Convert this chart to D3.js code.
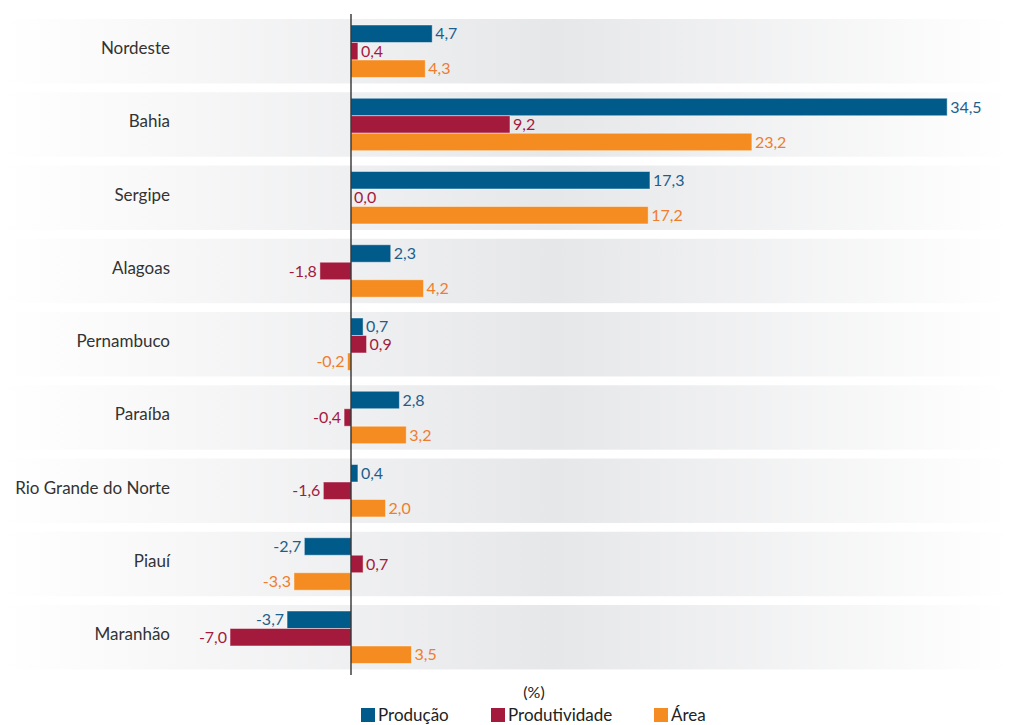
<!DOCTYPE html>
<html><head><meta charset="utf-8">
<script src="https://cdn.jsdelivr.net/npm/d3@7"></script>
<style>body{margin:0;background:#fff}svg{display:block;font-family:Lato,"Open Sans",sans-serif}</style>
</head><body>
<script>
const categories = ["Nordeste","Bahia","Sergipe","Alagoas","Pernambuco","Paraíba","Rio Grande do Norte","Piauí","Maranhão"];
const seriesNames = ["Produção","Produtividade","Área"];
const producao = [4.7,34.5,17.3,2.3,0.7,2.8,0.4,-2.7,-3.7];
const produtividade = [0.4,9.2,0.0,-1.8,0.9,-0.4,-1.6,0.7,-7.0];
const area = [4.3,23.2,17.2,4.2,-0.2,3.2,2.0,-3.3,3.5];
const unitLabel = "(%)";

const colors = ["#005a8a","#a31a3c","#f48c21"];
const textColors = ["#1d5f8c","#a31a3c","#ef7d2d"];
const values = [producao, produtividade, area];

const W = 1009, H = 725;
const svg = d3.select("body").append("svg").attr("width",W).attr("height",H);
const defs = svg.append("defs");
const grad = defs.append("linearGradient").attr("id","bandGrad").attr("x1","0").attr("x2","1").attr("y1","0").attr("y2","0");
grad.append("stop").attr("offset","0%").attr("stop-color","#ffffff");
grad.append("stop").attr("offset","18%").attr("stop-color","#f7f7f8");
grad.append("stop").attr("offset","55%").attr("stop-color","#e6e7e9");
grad.append("stop").attr("offset","100%").attr("stop-color","#ffffff");

const k = 17.28;
const x = d3.scaleLinear().domain([-8,36]).range([351-8*k, 351+36*k]);
const step = 73.25;
const y = d3.scaleBand().domain(categories).range([19-0.06*step, 19+9*step-0.06*step]).paddingInner(0.12).paddingOuter(0.06);
const inner = d3.scaleBand().domain(seriesNames).range([6, y.bandwidth()-6]);

// bands
svg.append("g").selectAll("rect").data(categories).join("rect")
  .attr("x",0).attr("width",W).attr("y",d=>y(d)).attr("height",y.bandwidth())
  .attr("fill","url(#bandGrad)");

// category labels
svg.append("g").selectAll("text").data(categories).join("text")
  .attr("x",170).attr("y",d=>y(d)+y.bandwidth()/2-3).attr("dy","0.35em")
  .attr("text-anchor","end").attr("font-size",17).attr("fill","#333")
  .text(d=>d);

// bars
seriesNames.forEach((s,si)=>{
  const g = svg.append("g");
  const data = categories.map((c,i)=>({c, v: values[si][i]}));
  g.selectAll("rect").data(data).join("rect")
    .attr("x",d=>x(Math.min(0,d.v))).attr("width",d=>Math.abs(x(d.v)-x(0)))
    .attr("y",d=>y(d.c)+inner(s)).attr("height",inner.bandwidth())
    .attr("fill",colors[si]).attr("stroke","rgba(255,255,255,0.45)").attr("stroke-width",1);
  g.selectAll("text").data(data).join("text")
    .attr("x",d=>d.v<0 ? x(d.v)-3 : x(d.v)+3)
    .attr("y",d=>y(d.c)+inner(s)+inner.bandwidth()/2).attr("dy","0.35em")
    .attr("text-anchor",d=>d.v<0?"end":"start")
    .attr("font-size",16).attr("fill",textColors[si])
    .text(d=>d3.format(".1f")(d.v).replace(".",",").replace("−","-"));
});

// zero line
svg.append("line").attr("x1",x(0)).attr("x2",x(0)).attr("y1",14).attr("y2",675)
  .attr("stroke","#222").attr("stroke-width",1.3);

// unit label
svg.append("text").attr("x",534).attr("y",692).attr("dy","0.35em").attr("text-anchor","middle")
  .attr("font-size",16).attr("fill","#222").text(unitLabel);

// legend
const legX = [361,491,654];
const lg = svg.append("g");
seriesNames.forEach((s,i)=>{
  lg.append("rect").attr("x",legX[i]).attr("y",708).attr("width",14).attr("height",14).attr("fill",colors[i]);
  lg.append("text").attr("x",legX[i]+17).attr("y",715).attr("dy","0.35em").attr("font-size",17).attr("fill","#222").text(s);
});
</script>
</body></html>
